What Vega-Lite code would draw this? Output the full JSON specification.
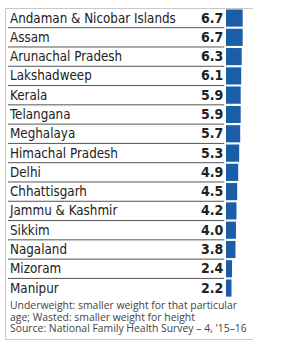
{
  "$schema": "https://vega.github.io/schema/vega-lite/v6.json",
  "autosize": {"type": "none"},
  "padding": {"left": 5, "top": 8, "right": 0, "bottom": 8},
  "width": 248,
  "height": 331,
  "background": "white",
  "config": {"view": {"stroke": "#c8c8c8", "strokeWidth": 1}},
  "title": {
    "text": ["Underweight: smaller weight for that particular", "age; Wasted: smaller weight for height", "Source: National Family Health Survey – 4, '15–16"],
    "orient": "bottom",
    "anchor": "start",
    "baseline": "top",
    "offset": -38,
    "dx": 5,
    "font": "Open Sans",
    "fontSize": 10.4,
    "fontWeight": "normal",
    "color": "#444444",
    "lineHeight": 11.6
  },
  "data": {"values": [
    {"state": "Andaman & Nicobar Islands", "value": 6.7},
    {"state": "Assam", "value": 6.7},
    {"state": "Arunachal Pradesh", "value": 6.3},
    {"state": "Lakshadweep", "value": 6.1},
    {"state": "Kerala", "value": 5.9},
    {"state": "Telangana", "value": 5.9},
    {"state": "Meghalaya", "value": 5.7},
    {"state": "Himachal Pradesh", "value": 5.3},
    {"state": "Delhi", "value": 4.9},
    {"state": "Chhattisgarh", "value": 4.5},
    {"state": "Jammu & Kashmir", "value": 4.2},
    {"state": "Sikkim", "value": 4.0},
    {"state": "Nagaland", "value": 3.8},
    {"state": "Mizoram", "value": 2.4},
    {"state": "Manipur", "value": 2.2}
  ]},
  "encoding": {
    "y": {"field": "state", "type": "nominal", "sort": null, "axis": null,
          "scale": {"range": [0.4, 289.7], "paddingInner": 0, "paddingOuter": 0}}
  },
  "layer": [
    {
      "transform": [{"filter": "datum.state !== 'Manipur'"}],
      "mark": {"type": "rule", "color": "#555555", "strokeWidth": 1},
      "encoding": {
        "y": {"field": "state", "type": "nominal", "sort": null, "bandPosition": 1},
        "x": {"datum": -87.55, "type": "quantitative", "axis": null,
              "scale": {"domain": [-88.75, 10.84], "zero": false, "nice": false}},
        "x2": {"datum": -0.8}
      }
    },
    {
      "mark": {"type": "bar", "color": "#1a5ea8", "height": {"band": 0.89}},
      "encoding": {
        "x": {"field": "value", "type": "quantitative"},
        "x2": {"datum": 0}
      }
    },
    {
      "mark": {"type": "text", "align": "left", "baseline": "middle", "font": "DejaVu Sans Condensed", "fontSize": 13.3, "color": "#222222", "dy": 0.5},
      "encoding": {
        "x": {"datum": -86.75, "type": "quantitative"},
        "text": {"field": "state"}
      }
    },
    {
      "mark": {"type": "text", "align": "right", "baseline": "middle", "font": "DejaVu Sans Condensed", "fontSize": 14, "fontWeight": "bold", "color": "#222222", "dy": 0.5},
      "encoding": {
        "x": {"datum": -1.08, "type": "quantitative"},
        "text": {"field": "value", "type": "quantitative", "format": ".1f"}
      }
    }
  ]
}
